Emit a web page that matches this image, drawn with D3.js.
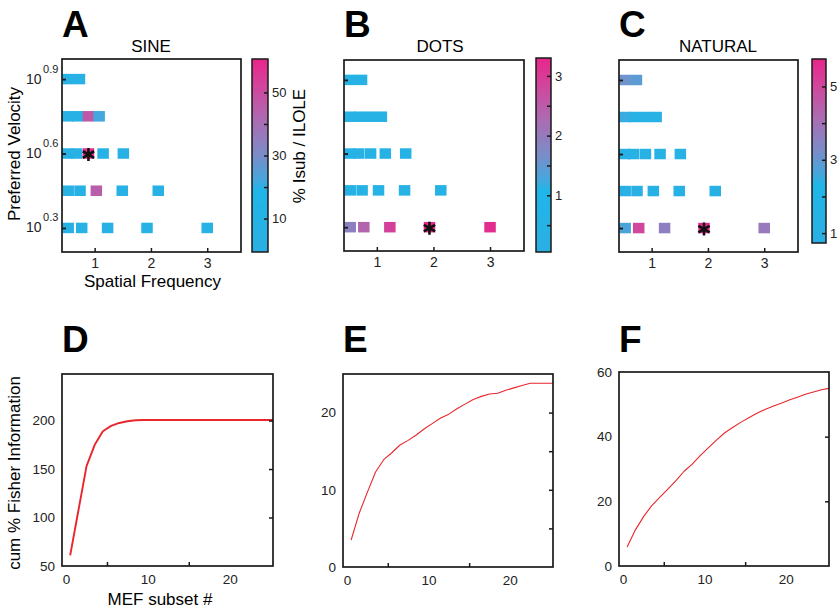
<!DOCTYPE html>
<html>
<head>
<meta charset="utf-8">
<script src="https://cdn.jsdelivr.net/npm/d3@7"></script>
<style>
  body { margin: 0; background: #fff; }
  svg { font-family: "Liberation Sans", Arial, sans-serif; }
</style>
</head>
<body>
<svg id="chart" width="839" height="611"></svg>
<script>
// ---------- data ----------
// preferred velocity rows (log10 exponents), top to bottom
const velocityExp = [0.9, 0.75, 0.6, 0.45, 0.3];
const velocityTickExp = [0.9, 0.6, 0.3];
// spatial frequency of each cell in each row
const cellSF = [
    [0.53, 0.73],
    [0.52, 0.70, 0.89, 1.08],
    [0.52, 0.68, 0.89, 1.15, 1.51],
    [0.53, 0.74, 1.03, 1.49, 2.13],
    [0.53, 0.77, 1.23, 1.93, 3.0]
];
const sfTicks = [1, 2, 3];

const sineValues = [
    [6, 6],
    [6, 6, 47, 22],
    [6, 6, 59, 6, 6],
    [6, 6, 45, 6, 6],
    [6, 6, 6, 6, 6]
];
const dotsValues = [
    [0.5, 0.5],
    [0.5, 0.5, 0.5, 0.5],
    [0.5, 0.5, 0.5, 0.5, 0.5],
    [0.5, 0.5, 0.5, 0.5, 0.5],
    [1.9, 2.4, 2.9, 3.3, 3.2]
];
const naturalValues = [
    [3.1, 2.9],
    [2.5, 1.3, 1.2, 1.2],
    [1.2, 1.2, 1.2, 1.2, 1.2],
    [1.2, 1.2, 1.2, 1.2, 1.2],
    [2.7, 5.0, 3.6, 5.7, 3.8]
];

const sineRange = [-0.6, 60.6];
const sineTicks = [10, 20, 30, 40, 50];
const sineTickLabels = ['10', '', '30', '', '50'];
const dotsRange = [0.05, 3.3];
const dotsTicks = [0.5, 1, 1.5, 2, 2.5, 3];
const dotsTickLabels = ['', '1', '', '2', '', '3'];
const naturalRange = [0.73, 5.75];
const naturalTicks = [1, 2, 3, 4, 5];
const naturalTickLabels = ['1', '', '3', '', '5'];

// cumulative Fisher information vs MEF subset
const mefSubset = [0.5, 1.5, 2.5, 3.5, 4.5, 5.5, 6.5, 7.5, 8.5, 9.5, 10.5, 11.5, 12.5,
    13.5, 14.5, 15.5, 16.5, 17.5, 18.5, 19.5, 20.5, 21.5, 22.5, 23.5, 24.5, 25.5];
const sineFisher = [61, 107, 153, 175, 189, 194.5, 197.5, 199.3, 200.3, 200.5, 200.5, 200.5, 200.5,
    200.5, 200.5, 200.5, 200.5, 200.5, 200.5, 200.5, 200.5, 200.5, 200.5, 200.5, 200.5, 200.5];
const dotsFisher = [3.5, 7.0, 9.7, 12.3, 13.9, 14.8, 15.8, 16.4, 17.1, 17.9, 18.6, 19.3, 19.8,
    20.5, 21.1, 21.7, 22.1, 22.4, 22.5, 22.9, 23.2, 23.5, 23.8, 23.8, 23.8, 23.8];
const naturalFisher = [5.9, 11.1, 15.2, 18.6, 21.2, 23.8, 26.4, 29.3, 31.5, 34.2, 36.6, 39.0, 41.2,
    42.9, 44.5, 45.9, 47.3, 48.5, 49.5, 50.4, 51.4, 52.3, 53.2, 53.9, 54.6, 55.0];

// ---------- shared styling ----------
const frameColor = '#1a1a1a';
const textColor = '#222';
const lineColor = '#e8262c';
const cmapStops = [0, 0.32, 0.36, 0.5, 0.68, 0.85, 1];
const cmapColors = ['#2bafe2', '#20b6e9', '#3eaadf', '#7a8dc9', '#ab6cb2', '#d0479d', '#e8268a'];
const colormap = d3.scaleLinear().domain(cmapStops).range(cmapColors).clamp(true);

const svg = d3.select('#chart');

class HeatPanel {

    constructor(_config) {
        this.config = _config;
        this.initVis();
    }

    initVis() {
        let vis = this;
        const c = vis.config;

        vis.xScale = d3.scaleLinear()
            .domain([0.42, 3.6])
            .range([c.left, c.left + c.width]);

        vis.yScale = d3.scaleLog()
            .domain([Math.pow(10, 0.203), Math.pow(10, 0.981)])
            .range([c.top + c.height, c.top]);

        vis.valueScale = d3.scaleLinear().domain(c.range).range([0, 1]);

        vis.cells = [];
        c.values.forEach((row, r) => {
            row.forEach((v, i) => {
                vis.cells.push({ sf: cellSF[r][i], vel: Math.pow(10, velocityExp[r]), value: v, best: r === c.best[0] && i === c.best[1] });
            });
        });

        vis.chart = svg.append('g').attr('class', 'heat-panel');
        vis.renderVis();
    }

    renderVis() {
        let vis = this;
        const c = vis.config;
        const cellW = 11.5, cellH = 10.5;

        // panel letter + title
        vis.chart.append('text')
            .attr('x', c.left).attr('y', 37)
            .attr('font-size', 37).attr('font-weight', 'bold')
            .text(c.letter);
        vis.chart.append('text')
            .attr('x', c.titleX).attr('y', 52)
            .attr('text-anchor', 'middle').attr('font-size', 17)
            .text(c.title);

        // cells
        vis.chart.selectAll('.cell')
            .data(vis.cells)
            .join('rect')
            .attr('class', 'cell')
            .attr('x', d => vis.xScale(d.sf) - cellW / 2)
            .attr('y', d => vis.yScale(d.vel) - cellH / 2)
            .attr('width', cellW)
            .attr('height', cellH)
            .attr('fill', d => colormap(vis.valueScale(d.value)));

        // asterisk on best cell
        vis.chart.selectAll('.best')
            .data(vis.cells.filter(d => d.best))
            .join('path')
            .attr('class', 'best')
            .attr('transform', d => `translate(${vis.xScale(d.sf)},${vis.yScale(d.vel) + 1})`)
            .attr('d', d3.symbol(d3.symbolAsterisk, 120))
            .attr('fill', 'none')
            .attr('stroke', '#111')
            .attr('stroke-width', 2.6);

        // axes with inward ticks
        const xAxis = d3.axisBottom(vis.xScale)
            .tickValues(sfTicks).tickSize(-4).tickPadding(6)
            .tickFormat(d3.format('d'));
        const xg = vis.chart.append('g')
            .attr('transform', `translate(0,${c.top + c.height})`)
            .call(xAxis);
        xg.select('.domain').remove();
        xg.selectAll('line').attr('stroke', frameColor).attr('stroke-width', 1.5);
        xg.selectAll('text').attr('font-size', 14).attr('fill', textColor)
            .attr('font-family', '"Liberation Sans", Arial, sans-serif');

        const yAxis = d3.axisLeft(vis.yScale)
            .tickValues(velocityTickExp.map(e => Math.pow(10, e)))
            .tickSize(-4).tickFormat('');
        const yg = vis.chart.append('g')
            .attr('transform', `translate(${c.left},0)`)
            .call(yAxis);
        yg.select('.domain').remove();
        yg.selectAll('line').attr('stroke', frameColor).attr('stroke-width', 1.8);

        if (c.showLabels) {
            const lab = vis.chart.selectAll('.ylab')
                .data(velocityTickExp)
                .join('text')
                .attr('class', 'ylab')
                .attr('x', c.left - 36)
                .attr('y', d => vis.yScale(Math.pow(10, d)) + 4.5)
                .attr('fill', textColor);
            lab.append('tspan').attr('font-size', 14).text('10');
            lab.append('tspan').attr('font-size', 11).attr('dx', 1.5).attr('dy', -11)
                .text(d => d.toFixed(1));

            vis.chart.append('text')
                .attr('x', c.left + c.width / 2 + 1).attr('y', 287)
                .attr('text-anchor', 'middle').attr('font-size', 17)
                .text('Spatial Frequency');
            vis.chart.append('text')
                .attr('transform', `translate(19.5,${154}) rotate(-90)`)
                .attr('text-anchor', 'middle').attr('font-size', 17)
                .text('Preferred Velocity');
        }

        // frame
        vis.chart.append('rect')
            .attr('x', c.left).attr('y', c.top)
            .attr('width', c.width).attr('height', c.height)
            .attr('fill', 'none').attr('stroke', frameColor).attr('stroke-width', 1.7);

        // colorbar
        const cb = c.cb;
        const gradId = 'grad-' + c.letter;
        const grad = svg.append('defs').append('linearGradient')
            .attr('id', gradId)
            .attr('x1', 0).attr('y1', 1).attr('x2', 0).attr('y2', 0);
        grad.selectAll('stop')
            .data(d3.range(0, 1.0001, 0.02))
            .join('stop')
            .attr('offset', d => d)
            .attr('stop-color', d => colormap(d));

        vis.chart.append('rect')
            .attr('x', cb.left).attr('y', cb.top)
            .attr('width', cb.width).attr('height', cb.height)
            .attr('fill', `url(#${gradId})`)
            .attr('stroke', frameColor).attr('stroke-width', 1.5);

        const cbScale = d3.scaleLinear().domain(c.range).range([cb.top + cb.height, cb.top]);
        const cbAxis = d3.axisRight(cbScale)
            .tickValues(c.ticks).tickSize(-4).tickPadding(4)
            .tickFormat((d, i) => c.tickLabels[i]);
        const cg = vis.chart.append('g')
            .attr('transform', `translate(${cb.left + cb.width},0)`)
            .call(cbAxis);
        cg.select('.domain').remove();
        cg.selectAll('line').attr('stroke', frameColor).attr('stroke-width', 1.5);
        cg.selectAll('text').attr('font-size', 13).attr('fill', textColor)
            .attr('font-family', '"Liberation Sans", Arial, sans-serif');
    }
}

class CurvePanel {

    constructor(_config) {
        this.config = _config;
        this.initVis();
    }

    initVis() {
        let vis = this;
        const c = vis.config;

        vis.xScale = d3.scaleLinear()
            .domain([-0.5, 25.3])
            .range([c.left, c.left + c.width]);
        vis.yScale = d3.scaleLinear()
            .domain(c.yDomain)
            .range([c.top + c.height, c.top]);

        vis.chart = svg.append('g').attr('class', 'curve-panel');
        vis.renderVis();
    }

    renderVis() {
        let vis = this;
        const c = vis.config;

        vis.chart.append('text')
            .attr('x', c.left).attr('y', 352)
            .attr('font-size', 37).attr('font-weight', 'bold')
            .text(c.letter);

        const clipId = 'clip-' + c.letter;
        svg.append('defs').append('clipPath').attr('id', clipId)
            .append('rect')
            .attr('x', c.left).attr('y', c.top)
            .attr('width', c.width).attr('height', c.height);

        const line = d3.line()
            .x((d, i) => vis.xScale(mefSubset[i]))
            .y(d => vis.yScale(d));

        vis.chart.append('path')
            .datum(c.values)
            .attr('clip-path', `url(#${clipId})`)
            .attr('d', line)
            .attr('fill', 'none')
            .attr('stroke', lineColor)
            .attr('stroke-width', c.lineWidth)
            .attr('stroke-linejoin', 'round');

        // labelled axes
        const styleAxis = (g) => {
            g.select('.domain').remove();
            g.selectAll('line').attr('stroke', frameColor).attr('stroke-width', 1.5);
            g.selectAll('text').attr('font-size', 13.5).attr('fill', textColor)
                .attr('font-family', '"Liberation Sans", Arial, sans-serif');
        };

        vis.chart.append('g')
            .attr('transform', `translate(0,${c.top + c.height})`)
            .call(d3.axisBottom(vis.xScale).tickValues([0, 10, 20]).tickSize(0).tickPadding(8))
            .call(styleAxis);
        vis.chart.append('g')
            .attr('transform', `translate(0,${c.top + c.height})`)
            .call(d3.axisBottom(vis.xScale).tickValues([5, 15]).tickSize(-4).tickFormat(''))
            .call(styleAxis);
        vis.chart.append('g')
            .attr('transform', `translate(${c.left},0)`)
            .call(d3.axisLeft(vis.yScale).tickValues(c.yTicks).tickSize(0).tickPadding(7))
            .call(styleAxis);
        vis.chart.append('g')
            .attr('transform', `translate(${c.left + c.width},0)`)
            .call(d3.axisRight(vis.yScale).tickValues(c.rightTicks).tickSize(-4).tickFormat(''))
            .call(styleAxis);

        if (c.showLabels) {
            vis.chart.append('text')
                .attr('x', 160).attr('y', 605)
                .attr('text-anchor', 'middle').attr('font-size', 17)
                .text('MEF subset #');
            vis.chart.append('text')
                .attr('transform', `translate(20,473) rotate(-90)`)
                .attr('text-anchor', 'middle').attr('font-size', 17)
                .text('cum % Fisher Information');
        }

        vis.chart.append('rect')
            .attr('x', c.left).attr('y', c.top)
            .attr('width', c.width).attr('height', c.height)
            .attr('fill', 'none').attr('stroke', frameColor).attr('stroke-width', 1.7);
    }
}

new HeatPanel({
    letter: 'A', title: 'SINE', titleX: 151, showLabels: true,
    left: 62, top: 59, width: 179, height: 193,
    cb: { left: 252, top: 59, width: 16, height: 193 },
    values: sineValues, range: sineRange, ticks: sineTicks, tickLabels: sineTickLabels,
    best: [2, 2]
});
new HeatPanel({
    letter: 'B', title: 'DOTS', titleX: 440, showLabels: false,
    left: 344, top: 60, width: 180, height: 191,
    cb: { left: 536, top: 58, width: 15, height: 194 },
    values: dotsValues, range: dotsRange, ticks: dotsTicks, tickLabels: dotsTickLabels,
    best: [4, 3]
});
new HeatPanel({
    letter: 'C', title: 'NATURAL', titleX: 718, showLabels: false,
    left: 619, top: 60, width: 179, height: 192,
    cb: { left: 812, top: 59, width: 14, height: 184 },
    values: naturalValues, range: naturalRange, ticks: naturalTicks, tickLabels: naturalTickLabels,
    best: [4, 3]
});

// colorbar label sits between A and B
svg.append('text')
    .attr('transform', 'translate(305,146) rotate(-90)')
    .attr('text-anchor', 'middle').attr('font-size', 17)
    .text('% Isub / ILOLE');

new CurvePanel({
    letter: 'D', showLabels: true, left: 62, top: 374, width: 211, height: 192,
    yDomain: [50, 248], yTicks: [50, 100, 150, 200], rightTicks: [100, 150, 200],
    values: sineFisher, lineWidth: 1.9
});
new CurvePanel({
    letter: 'E', showLabels: false, left: 343, top: 374, width: 210, height: 193,
    yDomain: [0, 25], yTicks: [0, 10, 20], rightTicks: [5, 10, 15, 20],
    values: dotsFisher, lineWidth: 1.1
});
new CurvePanel({
    letter: 'F', showLabels: false, left: 619, top: 372, width: 210, height: 194,
    yDomain: [0, 60], yTicks: [0, 20, 40, 60], rightTicks: [20, 40],
    values: naturalFisher, lineWidth: 1.1
});
</script>
</body>
</html>
